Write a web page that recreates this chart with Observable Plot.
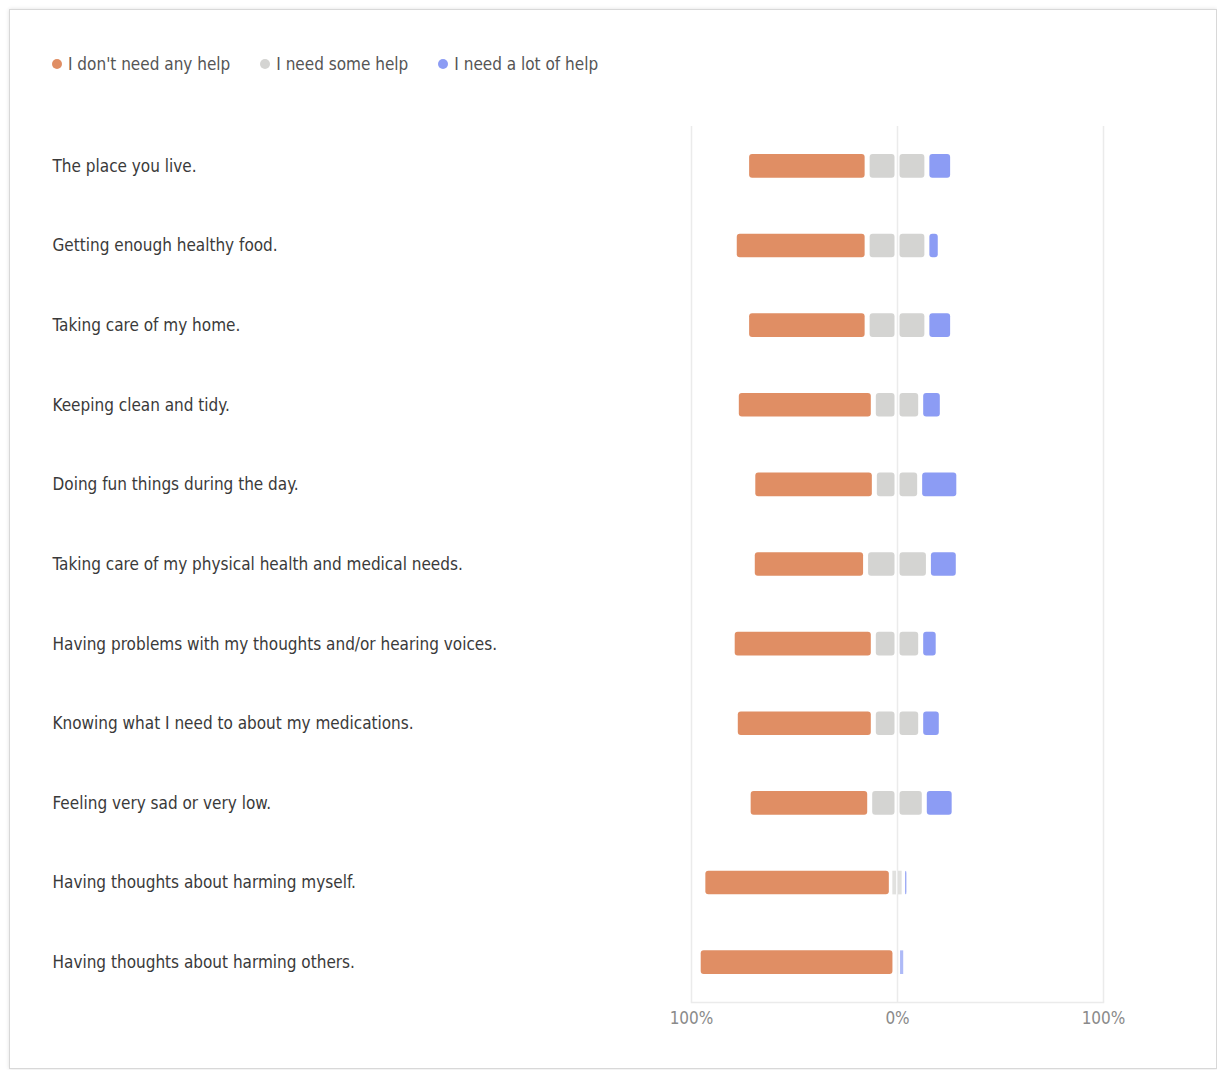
<!DOCTYPE html>
<html>
<head>
<meta charset="utf-8">
<script src="https://cdn.jsdelivr.net/npm/d3@7"></script>
<script src="https://cdn.jsdelivr.net/npm/@observablehq/plot@0.6"></script>
<style>
  html, body { margin: 0; padding: 0; background: #fff; }
  #page { position: relative; width: 1217px; height: 1070px; overflow: hidden; font-family: "DejaVu Sans Condensed", "Roboto", sans-serif; }
  #card { position: absolute; left: 9px; top: 9px; width: 1206px; height: 1058px; border: 1px solid #d8d8d8; box-shadow: 0 0 4px rgba(0,0,0,0.12); }
  #legend { position: absolute; left: 52px; top: 54px; display: flex; align-items: center; font-size: 17px; color: #555; }
  .item { display: flex; align-items: center; margin-right: 30px; }
  .dot { width: 10px; height: 10px; border-radius: 50%; margin-right: 6px; }
  #chart { position: absolute; left: 0; top: 100px; }
  #chart svg { display: block; }
</style>
</head>
<body>
<div id="page">
  <div id="card"></div>
  <div id="legend"></div>
  <div id="chart"></div>
</div>
<script>
const categories = [
  "The place you live.",
  "Getting enough healthy food.",
  "Taking care of my home.",
  "Keeping clean and tidy.",
  "Doing fun things during the day.",
  "Taking care of my physical health and medical needs.",
  "Having problems with my thoughts and/or hearing voices.",
  "Knowing what I need to about my medications.",
  "Feeling very sad or very low.",
  "Having thoughts about harming myself.",
  "Having thoughts about harming others."
];
const seriesNames = ["I don't need any help", "I need some help", "I need a lot of help"];
const seriesColors = ["#E08E64", "#D4D4D2", "#8C9CF4"];
const noHelp   = [58.5, 64.5, 58.5, 66.5, 59, 55, 68.5, 67, 59, 91.5, 95.5];
const someHelp = [29, 29, 29, 23, 22, 30.5, 23, 23, 26.5, 5.5, 2];
const lotHelp  = [12.5, 6.5, 12.5, 10.5, 19, 14.5, 8.5, 10, 14.5, 3, 2.5];
const tickValues = [-100, 0, 100];

// legend
const legend = document.getElementById("legend");
seriesNames.forEach((name, i) => {
  const item = document.createElement("div");
  item.className = "item";
  const dot = document.createElement("span");
  dot.className = "dot";
  dot.style.background = seriesColors[i];
  const label = document.createElement("span");
  label.textContent = name;
  item.appendChild(dot); item.appendChild(label);
  legend.appendChild(item);
});

// diverging segments
const segments = [];
categories.forEach((c, i) => {
  const o = noHelp[i], g = someHelp[i], b = lotHelp[i];
  segments.push({cat: c, series: seriesNames[0], x1: -(g / 2 + o), x2: -g / 2, v: o});
  segments.push({cat: c, series: seriesNames[1], x1: -g / 2, x2: 0, v: g / 2});
  segments.push({cat: c, series: seriesNames[1], x1: 0, x2: g / 2, v: g / 2});
  segments.push({cat: c, series: seriesNames[2], x1: g / 2, x2: g / 2 + b, v: b});
});
const big = segments.filter(d => d.v >= 3);
const small = segments.filter(d => d.v < 3);

const chart = Plot.plot({
  width: 1217,
  height: 960,
  marginLeft: 691,
  marginRight: 114,
  marginTop: 26,
  marginBottom: 58,
  style: {fontFamily: '"DejaVu Sans Condensed", sans-serif', background: "transparent"},
  x: {domain: [-100, 100]},
  y: {domain: categories, padding: 0, round: false},
  color: {domain: seriesNames, range: seriesColors},
  marks: [
    Plot.ruleX(tickValues, {stroke: "#ebebeb", strokeWidth: 1.5}),
    Plot.frame({anchor: "bottom", stroke: "#ebebeb", strokeWidth: 1.5}),
    Plot.barX(big, {x1: "x1", x2: "x2", y: "cat", fill: "series", insetLeft: 2.5, insetRight: 2.5, insetTop: 28, insetBottom: 28, rx: 3}),
    Plot.barX(small, {x1: "x1", x2: "x2", y: "cat", fill: "series", insetLeft: 1, insetRight: 1, insetTop: 28, insetBottom: 28, fillOpacity: 0.7}),
    Plot.axisX({ticks: tickValues, tickFormat: d => Math.abs(d) + "%", tickSize: 0, tickPadding: 9, fontSize: 17, color: "#8a8a8a", label: null}),
    Plot.axisY({tickSize: 0, tickPadding: 0, textAnchor: "start", dx: 52 - 691, fontSize: 17, color: "#3a3a3a", label: null})
  ]
});
document.getElementById("chart").appendChild(chart);
</script>
</body>
</html>
